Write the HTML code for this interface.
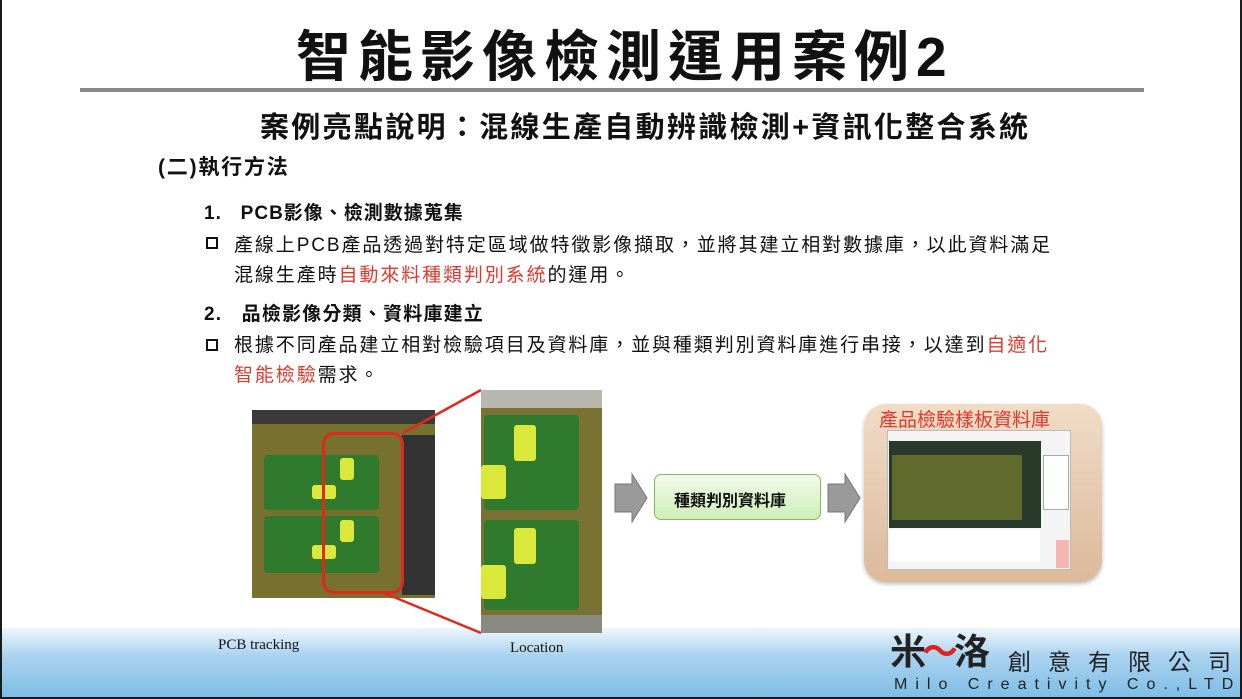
<!DOCTYPE html>
<html><head><meta charset="utf-8"><style>
*{margin:0;padding:0;box-sizing:border-box}
body{width:1242px;height:699px;background:#1a1a1a;position:relative;overflow:hidden;font-family:"Liberation Sans","Noto Sans CJK TC",sans-serif}
.slide{position:absolute;left:2px;top:0;width:1238px;height:697px;background:#fff}
.a{position:absolute;white-space:nowrap}
.red{color:#e03a2e}
.box{position:absolute;width:12px;height:12px;border:2px solid #111}
.pcb{position:absolute;background:#6b6630}
.board{position:absolute;background:#2f7a2c;border-radius:4px}
.yel{position:absolute;background:#d9e83a;border-radius:3px}
</style></head><body>
<div class="slide">
<div class="a" style="left:294px;top:12px;font-size:55px;font-weight:bold;color:#111;letter-spacing:7px">智能影像檢測運用案例2</div>
<div style="position:absolute;left:78px;top:88px;width:1064px;height:4px;background:#8a8a8a"></div>
<div class="a" style="left:258px;top:104px;font-size:29px;font-weight:bold;color:#111;letter-spacing:2.3px">案例亮點說明：混線生產自動辨識檢測+資訊化整合系統</div>
<div class="a" style="left:156px;top:151px;font-size:21px;font-weight:bold;color:#111;letter-spacing:1.8px">(二)執行方法</div>
<div class="a" style="left:202px;top:198px;font-size:19px;font-weight:bold;color:#111;letter-spacing:1px">1.&nbsp;&nbsp;&nbsp;PCB影像、檢測數據蒐集</div>
<div class="box" style="left:204px;top:237px"></div>
<div class="a" style="left:232px;top:231px;font-size:19px;color:#111;line-height:30px;letter-spacing:1.9px">產線上PCB產品透過對特定區域做特徵影像擷取，並將其建立相對數據庫，以此資料滿足<br>混線生產時<span class="red">自動來料種類判別系統</span>的運用。</div>
<div class="a" style="left:202px;top:299px;font-size:19px;font-weight:bold;color:#111;letter-spacing:1.2px">2.&nbsp;&nbsp;&nbsp;品檢影像分類、資料庫建立</div>
<div class="box" style="left:204px;top:339px"></div>
<div class="a" style="left:232px;top:331px;font-size:19px;color:#111;line-height:30px;letter-spacing:1.9px">根據不同產品建立相對檢驗項目及資料庫，並與種類判別資料庫進行串接，以達到<span class="red">自適化</span><br><span class="red">智能檢驗</span>需求。</div>

<!-- footer band -->
<div style="position:absolute;left:0;top:628px;width:1238px;height:69px;background:linear-gradient(#eef6fc,#a9d3ef 40%,#7fbde6)"></div>
<div class="a" style="left:216px;top:637px;font-family:'Liberation Serif',serif;font-size:15px;color:#111">PCB tracking</div>
<div class="a" style="left:508px;top:640px;font-family:'Liberation Serif',serif;font-size:15px;color:#111">Location</div>
<div class="a" style="left:888px;top:632px;font-size:36px;font-weight:bold;color:#222;letter-spacing:-4px;line-height:40px">米<span style="color:#d22">〜</span>洛</div>
<div class="a" style="left:1006px;top:648px;font-size:23px;color:#222;letter-spacing:17px;line-height:28px">創意有限公司</div>
<div class="a" style="left:892px;top:676px;font-size:16px;color:#222;letter-spacing:8px;line-height:18px">Milo Creativity Co.,LTD</div>

<!-- left photo -->
<div class="pcb" style="left:250px;top:410px;width:183px;height:188px;background:#77702f"></div>
<div style="position:absolute;left:250px;top:410px;width:183px;height:14px;background:#3a3a3a"></div>
<div style="position:absolute;left:400px;top:435px;width:33px;height:160px;background:#333"></div>
<div class="board" style="left:262px;top:455px;width:115px;height:55px"></div>
<div class="board" style="left:262px;top:516px;width:115px;height:57px"></div>
<div class="yel" style="left:338px;top:458px;width:14px;height:22px"></div>
<div class="yel" style="left:338px;top:520px;width:14px;height:22px"></div>
<div class="yel" style="left:310px;top:485px;width:24px;height:14px"></div>
<div class="yel" style="left:310px;top:545px;width:24px;height:14px"></div>
<div style="position:absolute;left:320px;top:432px;width:82px;height:162px;border:3px solid #e0291d;border-radius:12px"></div>
<svg style="position:absolute;left:0;top:0" width="1238" height="697">
<line x1="401" y1="433" x2="479" y2="390" stroke="#e0291d" stroke-width="2.5"/>
<line x1="382" y1="593" x2="479" y2="633" stroke="#e0291d" stroke-width="2.5"/>
<polygon points="613,484 630,484 630,474 645,498 630,522 630,512 613,512" fill="#9a9a9a" stroke="#777"/>
<polygon points="826,484 843,484 843,474 858,498 843,522 843,512 826,512" fill="#9a9a9a" stroke="#777"/>
</svg>
<!-- right photo -->
<div class="pcb" style="left:479px;top:390px;width:121px;height:243px;background:#7a7232"></div>
<div class="board" style="left:482px;top:415px;width:95px;height:95px"></div>
<div class="board" style="left:482px;top:520px;width:95px;height:90px"></div>
<div class="yel" style="left:512px;top:425px;width:22px;height:36px"></div>
<div class="yel" style="left:512px;top:528px;width:22px;height:36px"></div>
<div class="yel" style="left:479px;top:465px;width:25px;height:34px"></div>
<div class="yel" style="left:479px;top:565px;width:25px;height:34px"></div>
<div style="position:absolute;left:479px;top:390px;width:121px;height:18px;background:#b8b8b0"></div>
<div style="position:absolute;left:479px;top:615px;width:121px;height:18px;background:#8a8a80"></div>

<div style="position:absolute;left:652px;top:474px;width:167px;height:46px;background:linear-gradient(#f2fbe9,#cfeeb8);border:1.5px solid #7bbf5a;border-radius:7px"></div>
<div class="a" style="left:672px;top:487px;font-size:16px;font-weight:bold;color:#111">種類判別資料庫</div>

<div style="position:absolute;left:862px;top:404px;width:238px;height:178px;background:linear-gradient(#f0dcc6,#dcb99a);border-radius:22px;box-shadow:0 2px 4px #bbb"></div>
<div class="a" style="left:877px;top:405px;font-size:19px;color:#e03a2e">產品檢驗樣板資料庫</div>
<div style="position:absolute;left:885px;top:430px;width:184px;height:140px;background:#f4f4f4;border:1px solid #bbb"></div>
<div style="position:absolute;left:887px;top:441px;width:152px;height:87px;background:#2a3a2a"></div>
<div style="position:absolute;left:890px;top:455px;width:130px;height:65px;background:#5f6a2c"></div>
<div style="position:absolute;left:1041px;top:455px;width:26px;height:55px;background:#fff;border:1px solid #aaa"></div>
<div style="position:absolute;left:887px;top:530px;width:151px;height:32px;background:#fff"></div>
<div style="position:absolute;left:1054px;top:540px;width:13px;height:28px;background:#f5b5b0"></div>
</div>
</body></html>
